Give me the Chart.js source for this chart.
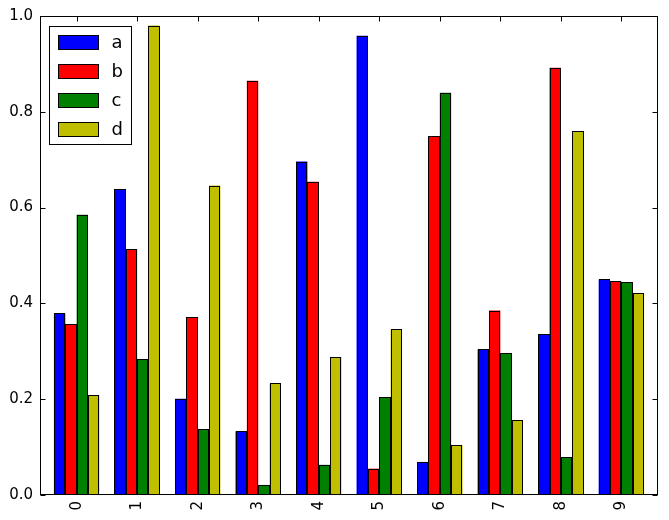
<!DOCTYPE html>
<html>
<head>
<meta charset="utf-8">
<title>Grouped bars a-d</title>
<script src="https://cdn.jsdelivr.net/npm/chart.js@4.4.1/dist/chart.umd.min.js"></script>
<style>
    html, body { margin: 0; padding: 0; background: #ffffff; }
    #wrap { width: 669px; height: 520px; }
</style>
</head>
<body>
<div id="wrap"><canvas id="barChart" width="669" height="520"></canvas></div>
<script>
// Chart data
const categories = [0, 1, 2, 3, 4, 5, 6, 7, 8, 9];
const seriesNames = ['a', 'b', 'c', 'd'];
const seriesA = [0.379, 0.638, 0.201, 0.133, 0.696, 0.959, 0.069, 0.304, 0.336, 0.450];
const seriesB = [0.357, 0.513, 0.371, 0.865, 0.654, 0.055, 0.749, 0.385, 0.892, 0.446];
const seriesC = [0.585, 0.283, 0.138, 0.021, 0.063, 0.204, 0.840, 0.296, 0.079, 0.444];
const seriesD = [0.208, 0.980, 0.646, 0.233, 0.288, 0.346, 0.104, 0.156, 0.760, 0.421];
const yTicks = [0, 0.2, 0.4, 0.6, 0.8, 1.0];

const colors = ['#0000ff', '#ff0000', '#008000', '#bfbf00'];
const tickFont = { family: 'DejaVu Sans', size: 15 };

function toPoints(values) {
    return values.map((v, i) => ({ x: categories[i], y: v }));
}

// Crisp black edges around each bar, snapped to the pixel grid
const barEdgePlugin = {
    id: 'barEdges',
    afterDatasetsDraw(chart) {
        const ctx = chart.ctx;
        ctx.save();
        ctx.strokeStyle = '#000000';
        ctx.lineWidth = 1;
        chart.data.datasets.forEach((ds, i) => {
            chart.getDatasetMeta(i).data.forEach(bar => {
                const { x, y, base, width } = bar.getProps(['x', 'y', 'base', 'width'], true);
                const l = Math.round(x - width / 2) + 0.5;
                const r = Math.round(x + width / 2) - 0.5;
                const t = Math.round(y) + 0.5;
                const b = Math.round(base) - 0.5;
                ctx.strokeRect(l, t, r - l, b - t);
            });
        });
        ctx.restore();
    }
};

// Frame with inward ticks on all four sides (matplotlib classic look)
const framePlugin = {
    id: 'frame',
    afterDatasetsDraw(chart) {
        const ctx = chart.ctx;
        const area = chart.chartArea;
        const xs = chart.scales.x;
        const ys = chart.scales.y;
        const L = Math.round(area.left) + 0.5;
        const R = Math.round(area.right) - 0.5;
        const T = Math.round(area.top) + 0.5;
        const B = Math.round(area.bottom) - 0.5;
        const len = 5;

        ctx.save();
        ctx.strokeStyle = '#000000';
        ctx.lineWidth = 1;
        ctx.strokeRect(L, T, R - L, B - T);

        ctx.beginPath();
        categories.forEach(c => {
            const px = Math.round(xs.getPixelForValue(c)) + 0.5;
            ctx.moveTo(px, B); ctx.lineTo(px, B - len);
            ctx.moveTo(px, T); ctx.lineTo(px, T + len);
        });
        yTicks.forEach(v => {
            const py = Math.round(ys.getPixelForValue(v)) + 0.5;
            ctx.moveTo(L, py); ctx.lineTo(L + len, py);
            ctx.moveTo(R, py); ctx.lineTo(R - len, py);
        });
        ctx.stroke();
        ctx.restore();
    }
};

// Legend box drawn inside the upper left of the plot
const legendPlugin = {
    id: 'innerLegend',
    afterDraw(chart) {
        const ctx = chart.ctx;
        const area = chart.chartArea;
        const boxLeft = area.left + 9.5;
        const boxTop = area.top + 10.5;
        const boxW = 82;
        const boxH = 118;
        const rowH = 29.1;

        ctx.save();
        ctx.fillStyle = '#ffffff';
        ctx.fillRect(boxLeft, boxTop, boxW, boxH);
        ctx.strokeStyle = '#000000';
        ctx.lineWidth = 1;
        ctx.strokeRect(boxLeft, boxTop, boxW, boxH);

        ctx.font = '18px "DejaVu Sans"';
        ctx.textBaseline = 'middle';
        ctx.textAlign = 'left';
        chart.data.datasets.forEach((ds, i) => {
            const cy = boxTop + 15.5 + i * rowH;
            const hx = Math.round(boxLeft + 8) + 0.5;
            const hy = Math.round(cy - 7) + 0.5;
            ctx.fillStyle = ds.backgroundColor;
            ctx.fillRect(hx, hy, 40, 14);
            ctx.strokeRect(hx, hy, 40, 14);
            ctx.fillStyle = '#000000';
            ctx.fillText(ds.label, boxLeft + 62, cy + 1);
        });
        ctx.restore();
    }
};

const datasets = [seriesA, seriesB, seriesC, seriesD].map((vals, i) => ({
    label: seriesNames[i],
    data: toPoints(vals),
    backgroundColor: colors[i],
    borderWidth: 0,
    categoryPercentage: 0.75,
    barPercentage: 1.0
}));

new Chart(document.getElementById('barChart').getContext('2d'), {
    type: 'bar',
    data: { datasets: datasets },
    options: {
        responsive: false,
        animation: false,
        layout: { padding: { top: 15, right: 11, left: 0, bottom: 0 } },
        plugins: {
            legend: { display: false },
            tooltip: { enabled: false }
        },
        scales: {
            x: {
                type: 'linear',
                offset: false,
                min: -0.605,
                max: 9.605,
                grid: { display: false, drawTicks: false },
                border: { display: false },
                afterBuildTicks: scale => {
                    scale.ticks = categories.map(c => ({ value: c }));
                },
                afterFit: scale => { scale.height = 25; },
                ticks: {
                    autoSkip: false,
                    minRotation: 90,
                    maxRotation: 90,
                    padding: 6,
                    color: '#000000',
                    font: tickFont,
                    callback: v => String(v)
                }
            },
            y: {
                min: 0,
                max: 1,
                grid: { display: false, drawTicks: false },
                border: { display: false },
                afterBuildTicks: scale => {
                    scale.ticks = yTicks.map(v => ({ value: v }));
                },
                afterFit: scale => { scale.width = 40; },
                ticks: {
                    padding: 7,
                    color: '#000000',
                    font: tickFont,
                    callback: v => Number(v).toFixed(1)
                }
            }
        }
    },
    plugins: [barEdgePlugin, framePlugin, legendPlugin]
});
</script>
</body>
</html>
